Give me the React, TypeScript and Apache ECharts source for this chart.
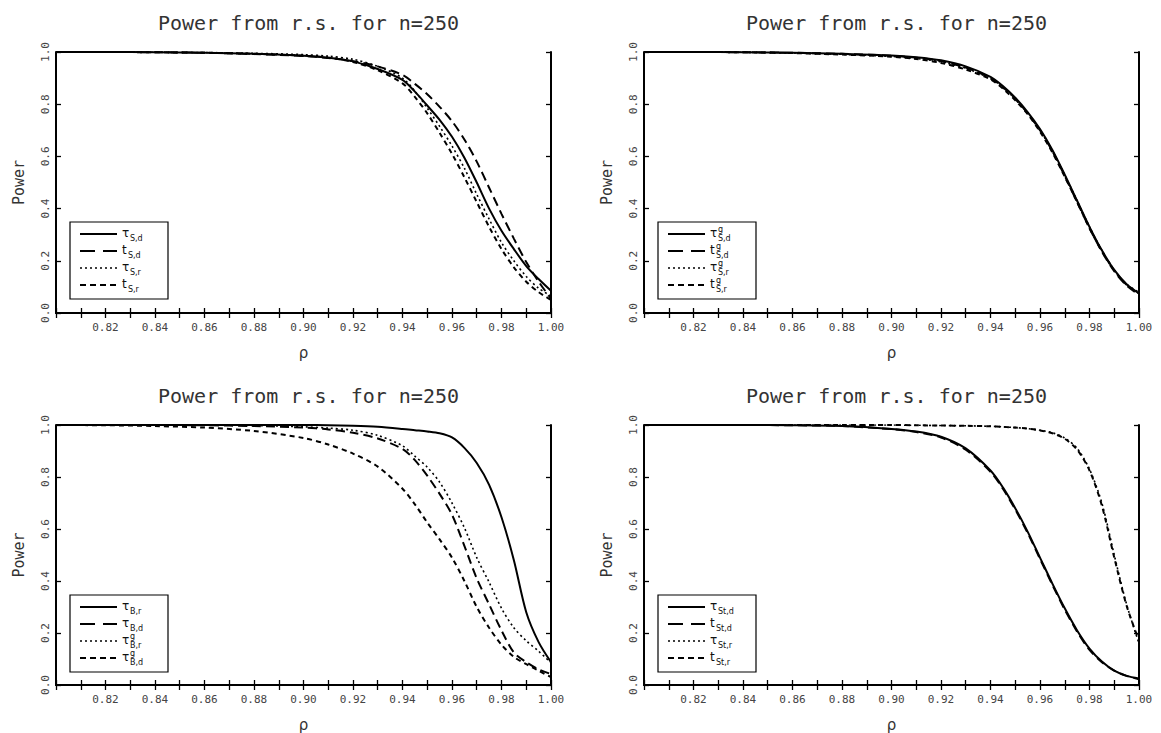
import React, { useEffect, useRef } from "react";
import * as echarts from "echarts";

// ---- data -------------------------------------------------------------
const RHO = [0.8, 0.82, 0.84, 0.86, 0.88, 0.9, 0.91, 0.92, 0.93, 0.94, 0.945, 0.95, 0.955, 0.96, 0.965, 0.97, 0.975, 0.98, 0.985, 0.99, 0.995, 1.0];

const TITLES = ["Power from r.s. for n=250", "Power from r.s. for n=250", "Power from r.s. for n=250", "Power from r.s. for n=250"];
const X_TICKS = [0.82, 0.84, 0.86, 0.88, 0.9, 0.92, 0.94, 0.96, 0.98, 1.0];
const Y_TICKS = [0.0, 0.2, 0.4, 0.6, 0.8, 1.0];

// panel 1 (top-left)
const P1_TAU_SD = [1.0, 1.0, 0.999, 0.997, 0.993, 0.986, 0.978, 0.964, 0.935, 0.893, 0.848, 0.795, 0.74, 0.675, 0.595, 0.5, 0.4, 0.315, 0.245, 0.18, 0.13, 0.085];
const P1_T_SD = [1.0, 1.0, 0.999, 0.997, 0.992, 0.985, 0.977, 0.965, 0.945, 0.912, 0.878, 0.838, 0.79, 0.735, 0.665, 0.58, 0.48, 0.38, 0.285, 0.195, 0.12, 0.055];
const P1_TAU_SR = [1.0, 1.0, 0.999, 0.998, 0.995, 0.99, 0.984, 0.972, 0.945, 0.9, 0.85, 0.785, 0.715, 0.64, 0.555, 0.455, 0.36, 0.27, 0.2, 0.14, 0.095, 0.065];
const P1_T_SR = [1.0, 1.0, 0.999, 0.997, 0.993, 0.986, 0.978, 0.962, 0.93, 0.88, 0.828, 0.765, 0.69, 0.61, 0.52, 0.425, 0.33, 0.245, 0.175, 0.12, 0.08, 0.05];

// panel 2 (top-right)
const P2_TAUG_SD = [1.0, 1.0, 0.999, 0.997, 0.993, 0.987, 0.98, 0.968, 0.945, 0.905, 0.87, 0.825, 0.77, 0.705, 0.625, 0.53, 0.43, 0.33, 0.24, 0.165, 0.11, 0.075];
const P2_TG_SD = [1.0, 1.0, 0.999, 0.997, 0.993, 0.986, 0.978, 0.965, 0.94, 0.9, 0.865, 0.82, 0.765, 0.7, 0.62, 0.525, 0.425, 0.325, 0.235, 0.16, 0.105, 0.07];
const P2_TAUG_SR = [1.0, 1.0, 0.999, 0.996, 0.991, 0.983, 0.975, 0.962, 0.938, 0.898, 0.863, 0.82, 0.765, 0.7, 0.62, 0.528, 0.43, 0.33, 0.24, 0.165, 0.11, 0.08];
const P2_TG_SR = [1.0, 1.0, 0.999, 0.996, 0.99, 0.982, 0.973, 0.958, 0.933, 0.895, 0.86, 0.815, 0.762, 0.695, 0.615, 0.522, 0.425, 0.325, 0.237, 0.163, 0.108, 0.075];

// panel 3 (bottom-left)
const P3_TAU_BR = [1.0, 1.0, 1.0, 1.0, 1.0, 1.0, 0.999, 0.997, 0.993, 0.985, 0.98, 0.975, 0.968, 0.952, 0.912, 0.854, 0.77, 0.645, 0.48, 0.28, 0.165, 0.088];
const P3_TAU_BD = [1.0, 1.0, 1.0, 0.999, 0.996, 0.99, 0.983, 0.97, 0.948, 0.908, 0.865, 0.805, 0.735, 0.655, 0.535, 0.41, 0.31, 0.21, 0.125, 0.088, 0.06, 0.042];
const P3_TAUG_BR = [1.0, 1.0, 1.0, 1.0, 0.998, 0.993, 0.988, 0.98, 0.96, 0.92, 0.88, 0.838, 0.78, 0.7, 0.605, 0.49, 0.395, 0.295, 0.22, 0.17, 0.13, 0.085];
const P3_TAUG_BD = [1.0, 0.999, 0.996, 0.99, 0.977, 0.95, 0.925, 0.89, 0.84, 0.755, 0.695, 0.625, 0.56, 0.49, 0.4, 0.3, 0.22, 0.155, 0.108, 0.08, 0.055, 0.03];

// panel 4 (bottom-right)
const P4_TAU_STD = [1.0, 1.0, 1.0, 0.999, 0.996, 0.985, 0.975, 0.955, 0.91, 0.825, 0.76, 0.68, 0.59, 0.49, 0.39, 0.295, 0.21, 0.14, 0.09, 0.055, 0.035, 0.025];
const P4_T_STD = [1.0, 1.0, 1.0, 0.999, 0.996, 0.984, 0.973, 0.952, 0.905, 0.82, 0.755, 0.675, 0.585, 0.485, 0.385, 0.29, 0.205, 0.135, 0.088, 0.055, 0.035, 0.022];
const P4_TAU_STR = [1.0, 1.0, 1.0, 1.0, 1.0, 1.0, 0.999, 0.998, 0.997, 0.995, 0.993, 0.99, 0.986, 0.98, 0.97, 0.95, 0.91, 0.83, 0.7, 0.5, 0.31, 0.16];
const P4_T_STR = [1.0, 1.0, 1.0, 1.0, 1.0, 1.0, 0.999, 0.998, 0.997, 0.995, 0.993, 0.99, 0.986, 0.979, 0.968, 0.947, 0.905, 0.825, 0.69, 0.49, 0.305, 0.17];

// legend labels: main symbol, superscript, subscript
const LEG1 = [{ m: "τ", sup: "", sub: "S,d" }, { m: "t", sup: "", sub: "S,d" }, { m: "τ", sup: "", sub: "S,r" }, { m: "t", sup: "", sub: "S,r" }];
const LEG2 = [{ m: "τ", sup: "g", sub: "S,d" }, { m: "t", sup: "g", sub: "S,d" }, { m: "τ", sup: "g", sub: "S,r" }, { m: "t", sup: "g", sub: "S,r" }];
const LEG3 = [{ m: "τ", sup: "", sub: "B,r" }, { m: "τ", sup: "", sub: "B,d" }, { m: "τ", sup: "g", sub: "B,r" }, { m: "τ", sup: "g", sub: "B,d" }];
const LEG4 = [{ m: "τ", sup: "", sub: "St,d" }, { m: "t", sup: "", sub: "St,d" }, { m: "τ", sup: "", sub: "St,r" }, { m: "t", sup: "", sub: "St,r" }];

const PANEL_SERIES = [
  [P1_TAU_SD, P1_T_SD, P1_TAU_SR, P1_T_SR],
  [P2_TAUG_SD, P2_TG_SD, P2_TAUG_SR, P2_TG_SR],
  [P3_TAU_BR, P3_TAU_BD, P3_TAUG_BR, P3_TAUG_BD],
  [P4_TAU_STD, P4_T_STD, P4_TAU_STR, P4_T_STR],
];
const PANEL_LEGENDS = [LEG1, LEG2, LEG3, LEG4];

// ---- styles / layout --------------------------------------------------
const GRIDS = [
  { left: 56, top: 52 },
  { left: 644, top: 52 },
  { left: 56, top: 425 },
  { left: 644, top: 425 },
];
const GW = 495;
const GH = 261;
const FONT = "DejaVu Sans, Liberation Sans, sans-serif";
const MONO = "DejaVu Sans Mono, Liberation Mono, monospace";

const LINE_STYLES = [
  { type: "solid", width: 2 },
  { type: [9, 5], width: 2 },
  { type: [2, 3], width: 1.6 },
  { type: [5, 4], width: 2 },
];
const LEGEND_DASH = [null, [15, 8], [2, 3], [6, 4]];

export default function App() {
  const ref = useRef<HTMLDivElement>(null);

  useEffect(() => {
    document.body.style.margin = "0";
    if (!ref.current) return;
    const chart = echarts.init(ref.current, undefined, { renderer: "svg" });

    const grid: any[] = [];
    const xAxis: any[] = [];
    const yAxis: any[] = [];
    const series: any[] = [];
    const title: any[] = [];
    const graphic: any[] = [];

    const axisLine = { show: true, lineStyle: { color: "#000", width: 2 } };
    const tick = { show: true, inside: true, length: 5, lineStyle: { color: "#000", width: 1.3 } };
    const minor = { show: true, splitNumber: 2, length: 5, lineStyle: { color: "#000", width: 1.3 } };

    GRIDS.forEach((g, p) => {
      grid.push({ left: g.left, top: g.top, width: GW, height: GH, show: false });
      title.push({
        text: TITLES[p],
        left: g.left + GW / 2,
        top: g.top - 44,
        textAlign: "center",
        textStyle: { fontFamily: MONO, fontSize: 20, fontWeight: "normal", color: "#333" },
      });
      const xBase = {
        gridIndex: p,
        type: "value",
        min: 0.8,
        max: 1.0,
        interval: 0.02,
        axisLine,
        axisTick: tick,
        minorTick: minor,
        splitLine: { show: false },
        minorSplitLine: { show: false },
      };
      xAxis.push({
        ...xBase,
        position: "bottom",
        name: "ρ",
        nameLocation: "middle",
        nameGap: 32,
        nameTextStyle: { fontFamily: FONT, fontSize: 15, color: "#333" },
        axisLabel: {
          showMinLabel: false,
          fontFamily: MONO,
          fontSize: 11,
          color: "#444",
          margin: 9,
          formatter: (v: number) => (X_TICKS.some((t) => Math.abs(t - v) < 1e-6) ? v.toFixed(2) : ""),
        },
      });
      xAxis.push({ ...xBase, position: "top", axisLabel: { show: false } });
      const yBase = {
        gridIndex: p,
        type: "value",
        min: 0,
        max: 1,
        interval: 0.2,
        axisLine,
        axisTick: tick,
        splitLine: { show: false },
      };
      yAxis.push({
        ...yBase,
        position: "left",
        name: "Power",
        nameLocation: "middle",
        nameGap: 30,
        nameTextStyle: { fontFamily: MONO, fontSize: 15, color: "#333" },
        axisLabel: {
          rotate: 90,
          fontFamily: MONO,
          fontSize: 11,
          color: "#444",
          margin: 5,
          formatter: (v: number) => (Y_TICKS.some((t) => Math.abs(t - v) < 1e-6) ? v.toFixed(1) : ""),
        },
      });
      yAxis.push({ ...yBase, position: "right", axisLabel: { show: false } });

      const leg = PANEL_LEGENDS[p];
      PANEL_SERIES[p].forEach((vals, i) => {
        const l = leg[i];
        series.push({
          type: "line",
          name: `${l.m}${l.sup ? "^" + l.sup : ""}_${l.sub} (${p + 1})`,
          xAxisIndex: 2 * p,
          yAxisIndex: 2 * p,
          showSymbol: false,
          symbol: "none",
          smooth: 0.3,
          lineStyle: { color: "#000", width: LINE_STYLES[i].width, type: LINE_STYLES[i].type },
          data: RHO.map((r, k) => [r, vals[k]]),
          z: 2,
        });
      });

      // legend box
      const bx = g.left + 14;
      const by = g.top + GH - 91;
      graphic.push({
        type: "rect",
        shape: { x: bx, y: by, width: 98, height: 77 },
        style: { fill: "#fff", stroke: "#000", lineWidth: 1.2 },
        z: 100,
      });
      leg.forEach((l, i) => {
        const ry = by + 12 + i * 17;
        graphic.push({
          type: "line",
          shape: { x1: bx + 10, y1: ry, x2: bx + 47, y2: ry },
          style: { stroke: "#000", lineWidth: i === 2 ? 1.6 : 2, lineDash: LEGEND_DASH[i] || undefined },
          z: 101,
        });
        graphic.push({
          type: "text",
          x: bx + 52,
          y: ry - 1,
          style: { text: l.m, fill: "#111", fontSize: 12, fontFamily: FONT, textAlign: "left", textVerticalAlign: "middle" },
          z: 101,
        });
        const sx = bx + 52 + (l.m === "τ" ? 8 : 6);
        if (l.sup) {
          graphic.push({
            type: "text",
            x: sx,
            y: ry - 5,
            style: { text: l.sup, fill: "#111", fontSize: 8, fontFamily: FONT, textAlign: "left", textVerticalAlign: "middle" },
            z: 101,
          });
        }
        graphic.push({
          type: "text",
          x: sx,
          y: ry + 4.5,
          style: { text: l.sub, fill: "#111", fontSize: 8, fontFamily: FONT, textAlign: "left", textVerticalAlign: "middle" },
          z: 101,
        });
      });
    });

    chart.setOption({
      animation: false,
      backgroundColor: "#fff",
      title,
      grid,
      xAxis,
      yAxis,
      series,
      graphic,
    });

    return () => chart.dispose();
  }, []);

  return <div ref={ref} style={{ width: 1161, height: 733 }} />;
}
